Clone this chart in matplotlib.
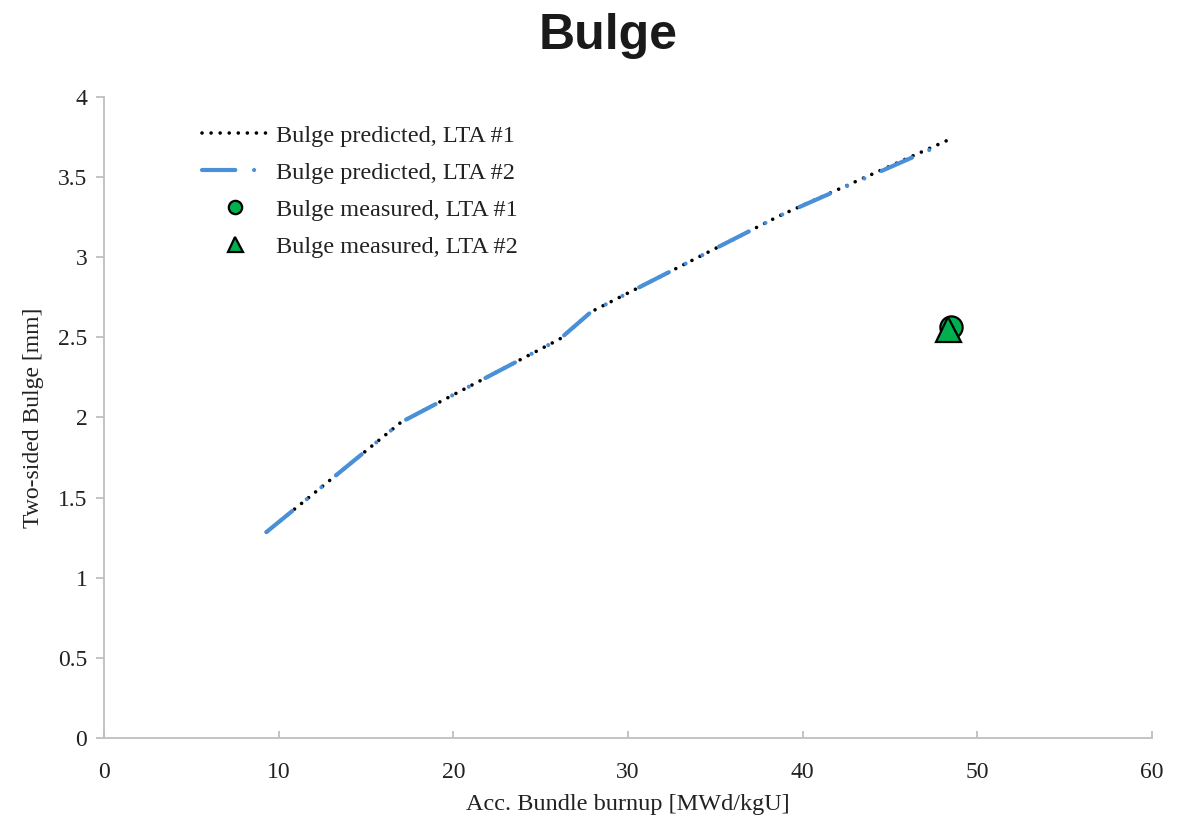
"""Bulge vs. accumulated bundle burnup: predicted curves and measured points."""

import matplotlib
matplotlib.use("Agg")
import matplotlib.pyplot as plt
from matplotlib.ticker import FuncFormatter

# -------------------------------------------------------------------------
# Data
# -------------------------------------------------------------------------
burnup_lta1 = [9.3, 17.0, 26.1, 27.9, 38.7, 48.3]
bulge_lta1 = [1.285, 1.97, 2.49, 2.66, 3.26, 3.73]

burnup_lta2 = [9.3, 17.0, 26.1, 27.9, 38.7, 48.1]
bulge_lta2 = [1.285, 1.97, 2.49, 2.66, 3.26, 3.71]

meas_burnup_lta1 = [48.5]
meas_bulge_lta1 = [2.565]
meas_burnup_lta2 = [48.3]
meas_bulge_lta2 = [2.55]

labels = [
    "Bulge predicted, LTA #1",
    "Bulge predicted, LTA #2",
    "Bulge measured, LTA #1",
    "Bulge measured, LTA #2",
]

BLUE = "#4A90D9"
GREEN = "#00B050"
AXIS_GREY = "#BFBFBF"
TEXT = "#222222"
SERIF = ["Liberation Serif", "DejaVu Serif"]

fig = plt.figure(figsize=(11.86, 8.15), dpi=100)
ax = fig.add_axes([0.0877, 0.0945, 0.8836, 0.7865])

# predicted curves (blue dash-dot-dot drawn over the black dots)
ax.plot(burnup_lta1, bulge_lta1, color="black", linewidth=2.6,
        dashes=(0.01, 2.5), dash_capstyle="round", label=labels[0], zorder=2)
ax.plot(burnup_lta2, bulge_lta2, color=BLUE, linewidth=3.0,
        dashes=(8, 4.5, 0.01, 4.5, 0.01, 4.5), dash_capstyle="round",
        label=labels[1], zorder=3)

# measured points
ax.plot(meas_burnup_lta1, meas_bulge_lta1, "o", color=GREEN, markersize=16,
        markeredgecolor="black", markeredgewidth=1.6, label=labels[2], zorder=4)
ax.plot(meas_burnup_lta2, meas_bulge_lta2, "^", color=GREEN, markersize=18,
        markeredgecolor="black", markeredgewidth=1.6, label=labels[3], zorder=5)

ax.set_xlim(0, 60)
ax.set_ylim(0, 4)
ax.set_xticks(range(0, 61, 10))
ax.set_yticks([i * 0.5 for i in range(9)])
ax.yaxis.set_major_formatter(FuncFormatter(lambda v, _: f"{v:g}"))

for side in ("top", "right"):
    ax.spines[side].set_visible(False)
for side in ("left", "bottom"):
    ax.spines[side].set_color(AXIS_GREY)
    ax.spines[side].set_linewidth(1.3)

ax.tick_params(axis="y", direction="out", length=6, width=1.3,
               color=AXIS_GREY, pad=6)
ax.tick_params(axis="x", direction="in", length=5, width=1.3,
               color=AXIS_GREY, pad=17)
for lbl in ax.get_xticklabels() + ax.get_yticklabels():
    lbl.set_family(SERIF)
    lbl.set_fontsize(17)
    lbl.set_color(TEXT)

ax.set_xlabel("Acc. Bundle burnup [MWd/kgU]", family=SERIF, fontsize=17.5,
              color=TEXT, labelpad=8)
ax.set_ylabel("Two-sided Bulge [mm]", family=SERIF, fontsize=17,
              color=TEXT, labelpad=10)

leg = ax.legend(loc="upper left", bbox_to_anchor=(0.0725, 0.991),
                frameon=False, handlelength=2.7, handletextpad=0.35,
                labelspacing=0.62, markerscale=0.6,
                prop={"family": SERIF, "size": 17.5})
for txt in leg.get_texts():
    txt.set_color(TEXT)

fig.text(0.513, 0.956, "Bulge", ha="center", va="center",
         family=["Liberation Sans", "DejaVu Sans"], fontweight="bold",
         fontsize=36, color="#1a1a1a")

fig.savefig("out.png", dpi=100)
